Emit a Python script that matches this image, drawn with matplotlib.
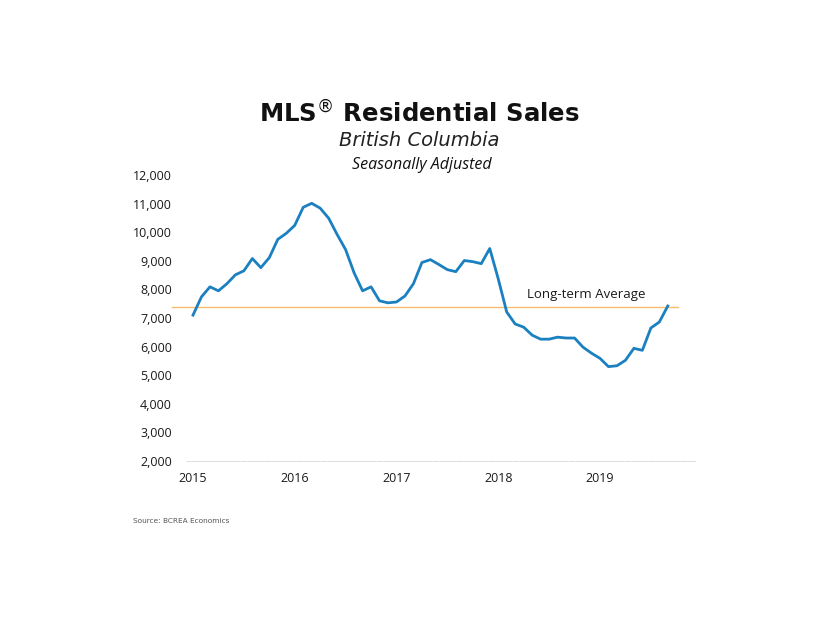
import matplotlib

matplotlib.use("Agg")

import matplotlib.pyplot as plt
import numpy as np

# monthly sales, Jan 2015 .. Sep 2019 (seasonally adjusted)
sales = [
    7100, 7740, 8090, 7950, 8200, 8510, 8650, 9080, 8760, 9110, 9750, 9960,
    10240, 10870, 11010, 10840, 10490, 9920, 9390, 8580, 7950, 8090, 7600, 7530,
    7560, 7770, 8200, 8940, 9040, 8870, 8690, 8620, 9010, 8970, 8900, 9430,
    8370, 7210, 6790, 6680, 6400, 6260, 6260, 6330, 6300, 6300, 5980, 5770,
    5590, 5300, 5330, 5520, 5940, 5870, 6650, 6860, 7420,
]
start_year = 2015
long_term_avg = 7400
years = [2015, 2016, 2017, 2018, 2019]
y_ticks = list(range(2000, 12001, 1000))

x = start_year + np.arange(len(sales)) / 12

fig = plt.figure(figsize=(8.2, 6.18), dpi=100)
ax = fig.add_axes([187 / 820, 1 - 461 / 618, (695 - 187) / 820, (461 - 175) / 618])

ax.plot([2014.794, 2019.767], [long_term_avg, long_term_avg], color="#f6bd6e",
        linewidth=1.0, clip_on=False, zorder=1)
ax.plot(x, sales, color="#1a80c0", linewidth=2.0, solid_joinstyle="round", zorder=3)

ax.set_xlim(2014.941, 2019.934)
ax.set_ylim(2000, 12000)
ax.set_xticks(years)
ax.set_xticklabels([str(y) for y in years])
ax.set_yticks(y_ticks)
ax.set_yticklabels([f"{v:,}" for v in y_ticks])

for side in ["top", "right", "left"]:
    ax.spines[side].set_visible(False)
ax.spines["bottom"].set_color("#d4d4d4")
ax.spines["bottom"].set_linestyle((0, (1, 1.5)))
ax.spines["bottom"].set_linewidth(0.7)
ax.tick_params(length=0, labelsize=9, colors="#1a1a1a")
ax.tick_params(axis="y", pad=11)
ax.tick_params(axis="x", pad=8)
for lbl in ax.get_xticklabels() + ax.get_yticklabels():
    lbl.set_fontfamily("Open Sans")

ax.text(2018.28, 7830, "Long-term Average", fontsize=9.5, family="Open Sans",
        color="#1a1a1a", va="center", ha="left")

fig.text(419 / 820, 1 - 114 / 618, r"MLS$^{®}$ Residential Sales", ha="center", va="center",
         fontsize=17.6, fontweight="bold", family="DejaVu Sans", color="#111111")
fig.text(419 / 820, 1 - 141 / 618, "British Columbia", ha="center", va="center",
         fontsize=14, style="italic", family="DejaVu Sans", color="#222222")
fig.text(422 / 820, 1 - 165 / 618, "Seasonally Adjusted", ha="center", va="center",
         fontsize=11.5, style="italic", family="Open Sans", color="#111111")
fig.text(133 / 820, 1 - 521 / 618, "Source: BCREA Economics", ha="left", va="center",
         fontsize=5.3, family="DejaVu Sans", color="#555555")

fig.savefig("out.png", dpi=100)
